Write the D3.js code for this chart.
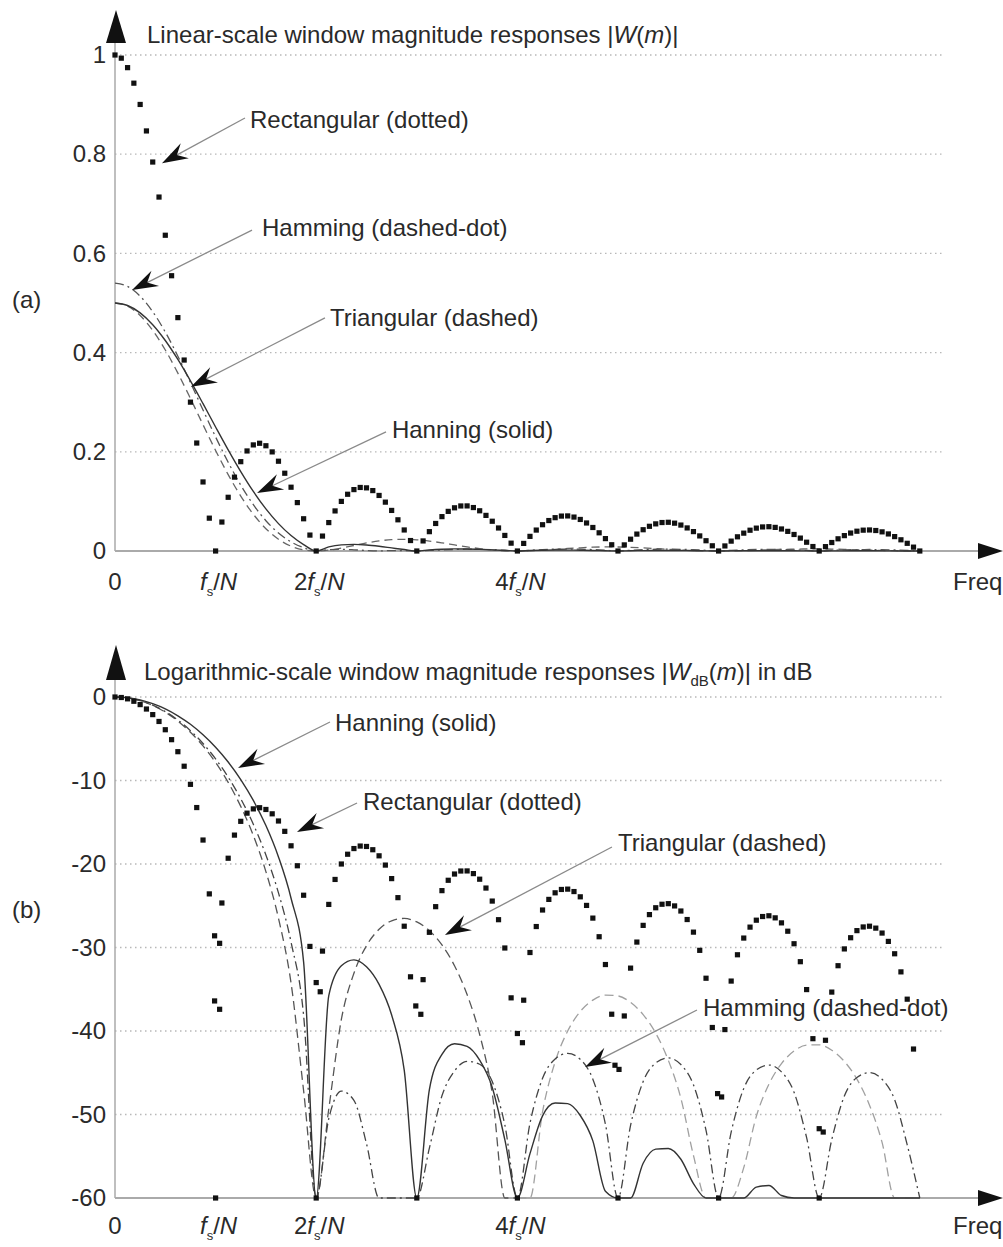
<!DOCTYPE html>
<html><head><meta charset="utf-8">
<script src="https://cdn.jsdelivr.net/npm/d3@7"></script>
<style>
body{margin:0;background:#fff;}
svg{display:block;font-family:'Liberation Sans',Arial,Helvetica,sans-serif;}
</style></head><body>
<svg id="chart" width="1003" height="1247"></svg>
<script>
// ---------------- DATA ----------------
// x positions are in units of fs/N (frequency bins)
const rectStep = 1 / 16;   // rectangular window samples: every 1/16 bin
const lineStep = 1 / 8;    // smooth window curves: every 1/8 bin

const xTickBins = [0, 1, 2, 4];
const xTickPrefix = ["0", "", "2", "4"];
const linTicks = [0, 0.2, 0.4, 0.6, 0.8, 1];
const linTickLabels = ["0", "0.2", "0.4", "0.6", "0.8", "1"];
const dbTicks = [-60, -50, -40, -30, -20, -10, 0];
const dbTickLabels = ["-60", "-50", "-40", "-30", "-20", "-10", "0"];

// Rectangular window, linear |W(m)|
const rectLin = [1, 0.9936, 0.9745, 0.9432, 0.9003, 0.8469, 0.7842, 0.7136, 0.6366, 0.5550, 0.4705, 0.3850, 0.3001, 0.2177, 0.1392, 0.0662, 0,
 0.0584, 0.1083, 0.1489, 0.1801, 0.2017, 0.2139, 0.2172, 0.2122, 0.1998, 0.1810, 0.1568, 0.1286, 0.0976, 0.0650, 0.0321, 0,
 0.0301, 0.0573, 0.0808, 0.1000, 0.1144, 0.1238, 0.1281, 0.1273, 0.1218, 0.1120, 0.0985, 0.0818, 0.0629, 0.0424, 0.0211, 0,
 0.0203, 0.0390, 0.0555, 0.0693, 0.0799, 0.0871, 0.0908, 0.0909, 0.0876, 0.0811, 0.0718, 0.0600, 0.0464, 0.0314, 0.0158, 0,
 0.0153, 0.0295, 0.0422, 0.0530, 0.0614, 0.0672, 0.0704, 0.0707, 0.0684, 0.0636, 0.0565, 0.0474, 0.0367, 0.0250, 0.0126, 0,
 0.0123, 0.0238, 0.0341, 0.0429, 0.0498, 0.0547, 0.0574, 0.0579, 0.0561, 0.0523, 0.0465, 0.0391, 0.0304, 0.0207, 0.0105, 0,
 0.0102, 0.0199, 0.0286, 0.0360, 0.0419, 0.0461, 0.0485, 0.0490, 0.0476, 0.0444, 0.0396, 0.0333, 0.0260, 0.0177, 0.0090, 0,
 0.0088, 0.0171, 0.0246, 0.0310, 0.0362, 0.0399, 0.0420, 0.0424, 0.0413, 0.0386, 0.0344, 0.0290, 0.0226, 0.0155, 0.0078, 0];

// Hanning / Hamming / Triangular, linear |W(m)|
const hanLin = [0.5, 0.4950, 0.4802, 0.4563, 0.4244, 0.3861, 0.3430, 0.2970, 0.25, 0.2039, 0.1601, 0.1201, 0.0849, 0.0552, 0.0312, 0.0129, 0,
 0.0082, 0.0123, 0.0133, 0.0121, 0.0095, 0.0062, 0.0029, 0,
 0.0022, 0.0036, 0.0042, 0.0040, 0.0033, 0.0023, 0.0011, 0,
 0.0009, 0.0016, 0.0019, 0.0018, 0.0016, 0.0011, 0.0005, 0,
 0.0005, 0.0008, 0.0010, 0.0010, 0.0009, 0.0006, 0.0003, 0,
 0.0003, 0.0005, 0.0006, 0.0006, 0.0005, 0.0004, 0.0002, 0,
 0.0002, 0.0003, 0.0004, 0.0004, 0.0003, 0.0002, 0.0001, 0];
const hamLin = [0.54, 0.5334, 0.5138, 0.4825, 0.4414, 0.3928, 0.3395, 0.2843, 0.23, 0.1789, 0.1329, 0.0934, 0.0611, 0.0363, 0.0184, 0.0067, 0,
 0.0029, 0.0033, 0.0024, 0.0010, 0.0002, 0.0008, 0.0007, 0,
 0.0011, 0.0022, 0.0031, 0.0036, 0.0034, 0.0027, 0.0015, 0,
 0.0015, 0.0028, 0.0037, 0.0040, 0.0037, 0.0028, 0.0015, 0,
 0.0015, 0.0027, 0.0035, 0.0037, 0.0034, 0.0026, 0.0014, 0,
 0.0013, 0.0024, 0.0032, 0.0034, 0.0031, 0.0023, 0.0012, 0,
 0.0012, 0.0022, 0.0028, 0.0030, 0.0028, 0.0021, 0.0011, 0];
const triLin = [0.5, 0.4936, 0.4748, 0.4448, 0.4053, 0.3586, 0.3075, 0.2546, 0.2026, 0.1540, 0.1107, 0.0741, 0.0450, 0.0237, 0.0097, 0.0022, 0,
 0.0017, 0.0059, 0.0111, 0.0162, 0.0203, 0.0229, 0.0236, 0.0225, 0.0200, 0.0164, 0.0123, 0.0083, 0.0048, 0.0021, 0.0005, 0,
 0.0005, 0.0016, 0.0033, 0.0050, 0.0065, 0.0077, 0.0082, 0.0081, 0.0074, 0.0063, 0.0049, 0.0033, 0.0020, 0.0009, 0.0002, 0,
 0.0002, 0.0008, 0.0015, 0.0024, 0.0032, 0.0038, 0.0041, 0.0041, 0.0038, 0.0033, 0.0026, 0.0018, 0.0011, 0.0005, 0.0001, 0];

// Rectangular window, dB (floor -60)
const rectDb = [0, -0.06, -0.22, -0.51, -0.91, -1.44, -2.11, -2.93, -3.92, -5.11, -6.55, -8.29, -10.46, -13.24, -17.13, -23.58, -60,
 -24.67, -19.31, -16.54, -14.89, -13.91, -13.40, -13.26, -13.47, -13.99, -14.85, -16.09, -17.82, -20.21, -23.74, -29.87, -60,
 -30.43, -24.84, -21.85, -20.00, -18.83, -18.15, -17.85, -17.90, -18.29, -19.02, -20.13, -21.75, -24.03, -27.45, -33.51, -60,
 -33.85, -28.18, -25.11, -23.19, -21.95, -21.20, -20.84, -20.83, -21.15, -21.82, -22.88, -24.44, -26.67, -30.06, -36.03, -60,
 -36.31, -30.60, -27.49, -25.51, -24.24, -23.45, -23.05, -23.01, -23.30, -23.93, -24.96, -26.48, -28.71, -32.04, -37.99, -60,
 -38.20, -32.47, -29.35, -27.35, -26.06, -25.24, -24.82, -24.75, -25.02, -25.63, -26.65, -28.16, -30.34, -33.68, -39.58, -60,
 -39.83, -34.02, -30.87, -28.87, -27.56, -26.73, -26.29, -26.20, -26.45, -27.05, -28.05, -29.55, -31.70, -35.04, -40.92, -60,
 -41.11, -35.34, -32.18, -30.17, -28.83, -27.98, -27.54, -27.45, -27.68, -28.27, -29.27, -30.75, -32.92, -36.19, -42.16];
// extra rectangular dots seen close to the nulls (bin, dB)
const rectDbExtraBins = [0.99, 1.04, 0.99, 1.04, 2.0, 2.04, 2.99, 3.04, 4.0, 4.05, 4.97, 5.01, 5.99, 6.03, 7.0, 7.04];
const rectDbExtraVals = [-28.6, -29.5, -36.4, -37.4, -34.2, -35.3, -37.0, -38.0, -40.3, -41.4, -44.1, -44.6, -47.5, -47.9, -51.7, -52.1];

// Hanning / Hamming / Triangular, dB (floor -60)
const hanDb = [0, -0.09, -0.35, -0.80, -1.42, -2.25, -3.27, -4.53, -6.02, -7.79, -9.89, -12.39, -15.40, -19.15, -24.10, -31.75, -60,
 -35.76, -32.18, -31.48, -32.31, -34.42, -38.09, -44.68, -60,
 -47.03, -42.80, -41.53, -41.85, -43.50, -46.76, -53.0, -60,
 -54.69, -50.16, -48.63, -48.70, -50.12, -53.16, -59.19, -60,
 -60, -55.84, -54.15, -54.07, -55.36, -58.27, -60, -60,
 -60, -60, -58.69, -58.50, -59.70, -60, -60, -60,
 -60, -60, -60, -60, -60, -60, -60, -60];
const hamDb = [0, -0.11, -0.43, -0.98, -1.75, -2.76, -4.03, -5.57, -7.41, -9.60, -12.18, -15.24, -18.92, -23.46, -29.36, -38.14, -60,
 -50.5, -47.2, -48.3, -53.5, -60, -60, -60, -60,
 -54.03, -47.76, -44.79, -43.63, -43.98, -46.06, -51.24, -60,
 -51.05, -45.67, -43.35, -42.68, -43.39, -45.77, -51.16, -60,
 -51.30, -46.06, -43.83, -43.23, -44.02, -46.45, -51.9, -60,
 -52.1, -46.88, -44.67, -44.08, -44.89, -47.34, -52.78, -60,
 -53.0, -47.79, -45.56, -44.99, -45.78, -48.23, -53.64, -60];
const triDb = [0, -0.11, -0.45, -1.02, -1.82, -2.89, -4.22, -5.86, -7.84, -10.23, -13.10, -16.58, -20.91, -26.49, -34.25, -47.16, -60,
 -49.34, -38.62, -33.08, -29.78, -27.82, -26.80, -26.52, -26.94, -27.98, -29.70, -32.18, -35.64, -40.42, -47.48, -60, -60,
 -60, -49.68, -43.70, -40.00, -37.66, -36.30, -35.70, -35.80, -36.58, -38.04, -40.26, -43.50, -48.06, -54.90, -60, -60,
 -60, -56.36, -50.22, -46.38, -43.90, -42.40, -41.68, -41.66, -42.30, -43.64, -45.76, -48.88, -53.34, -60, -60, -60];

// annotation anchors, in data units [bin, value]
const topNotes = [
  {label: "Rectangular (dotted)", at: [1.342, 0.853], from: [1.292, 0.873], tip: [0.467, 0.782]},
  {label: "Hamming (dashed-dot)", at: [1.461, 0.635], from: [1.362, 0.647], tip: [0.169, 0.526]},
  {label: "Triangular (dashed)", at: [2.137, 0.4536], from: [2.087, 0.470], tip: [0.755, 0.331]},
  {label: "Hanning (solid)", at: [2.753, 0.228], from: [2.694, 0.240], tip: [1.412, 0.117]}
];
const bottomNotes = [
  {label: "Hanning (solid)", at: [2.187, -4.07], from: [2.137, -2.99], tip: [1.223, -8.50]},
  {label: "Rectangular (dotted)", at: [2.465, -13.53], from: [2.406, -12.69], tip: [1.809, -16.17]},
  {label: "Triangular (dashed)", at: [5.0, -18.44], from: [4.940, -17.96], tip: [3.280, -28.50]},
  {label: "Hamming (dashed-dot)", at: [5.845, -38.2], from: [5.785, -37.49], tip: [4.672, -44.31]}
];

// ---------------- DRAWING ----------------
const FS = 24;
const TXT = "#2a2a2a";
const svg = d3.select("#chart");
const x = d3.scaleLinear().domain([0, 8]).range([115, 919.8]);
const yA = d3.scaleLinear().domain([0, 1]).range([551, 55]);
const yB = d3.scaleLinear().domain([-60, 0]).range([1198, 697]);

const pairs = (arr, step) => arr.map((v, i) => [i * step, v]);

function drawPanel(o) {
  const y = o.y;
  const g = svg.append("g");
  const base = y(o.ticks[0]);
  // grid
  g.selectAll("line.grid").data(o.ticks.slice(1)).join("line")
    .attr("class", "grid")
    .attr("x1", x(0)).attr("x2", 945)
    .attr("y1", d => y(d)).attr("y2", d => y(d))
    .attr("stroke", "#b8b8b8").attr("stroke-width", 1.3)
    .attr("stroke-dasharray", "1.5,3.5");
  // axes lines
  g.append("line").attr("x1", x(0)).attr("x2", x(0)).attr("y1", o.arrowBase).attr("y2", base)
    .attr("stroke", "#aaa").attr("stroke-width", 1.5);
  g.append("line").attr("x1", x(0)).attr("x2", 985).attr("y1", base).attr("y2", base)
    .attr("stroke", "#aaa").attr("stroke-width", 1.8);
  // arrow heads
  g.append("path").attr("d", `M116,${o.arrowTip} L126,${o.arrowBase} L106,${o.arrowBase} Z`).attr("fill", "#111");
  g.append("path").attr("d", `M1003,${base} L978,${base - 8} L978,${base + 8} Z`).attr("fill", "#111");
  // y tick labels
  const ax = d3.axisLeft(y).tickValues(o.ticks).tickFormat((d, i) => o.labels[i]).tickSize(0).tickPadding(9);
  const ag = g.append("g").attr("transform", `translate(${x(0)},0)`).call(ax);
  ag.select(".domain").remove();
  ag.attr("font-family", null).attr("font-size", FS);
  ag.selectAll("text").attr("fill", TXT);
  // x tick labels
  xTickBins.forEach((b, i) => {
    const t = g.append("text").attr("x", x(b) + (i === 0 ? 0 : 3)).attr("y", o.xLabelY)
      .attr("text-anchor", "middle").attr("font-size", FS).attr("fill", TXT);
    if (i === 0) { t.text(xTickPrefix[i]); return; }
    if (xTickPrefix[i]) t.append("tspan").text(xTickPrefix[i]);
    t.append("tspan").attr("font-style", "italic").text("f");
    t.append("tspan").attr("font-size", 13).attr("dy", 6).text("s");
    t.append("tspan").attr("dy", -6).text("/");
    t.append("tspan").attr("font-style", "italic").text("N");
  });
  g.append("text").attr("x", 953).attr("y", o.xLabelY).attr("font-size", FS).attr("fill", TXT).text("Freq");
  // panel letter
  g.append("text").attr("x", 12).attr("y", o.letterY).attr("font-size", FS).attr("fill", TXT).text(o.letter);
  // title
  const tt = g.append("text").attr("x", o.titleX).attr("y", o.titleY).attr("font-size", FS).attr("fill", TXT);
  o.title(tt);

  // curves
  const line = d3.line().x(d => x(d[0])).y(d => y(d[1])).curve(d3.curveMonotoneX);
  o.curves.forEach(c => {
    g.append("path").attr("d", line(c.data)).attr("fill", "none")
      .attr("stroke", c.color).attr("stroke-width", c.w || 1.3)
      .attr("stroke-dasharray", c.dash || null);
  });
  // dots
  g.selectAll("rect.dot").data(o.dots).join("rect").attr("class", "dot")
    .attr("x", d => x(d[0]) - 2.6).attr("y", d => y(d[1]) - 2.6)
    .attr("width", 5.2).attr("height", 5.2).attr("fill", "#111");
  // annotations
  o.notes.forEach(n => {
    const sx = x(n.from[0]), sy = y(n.from[1]);
    const tx = x(n.tip[0]), ty = y(n.tip[1]);
    const ang = Math.atan2(ty - sy, tx - sx);
    g.append("line").attr("x1", sx).attr("y1", sy)
      .attr("x2", tx - 14 * Math.cos(ang)).attr("y2", ty - 14 * Math.sin(ang))
      .attr("stroke", "#8a8a8a").attr("stroke-width", 1.3);
    g.append("path").attr("d", "M0,0 L-26,-8.5 L-17,0 L-26,8.5 Z")
      .attr("transform", `translate(${tx},${ty}) rotate(${ang * 180 / Math.PI})`)
      .attr("fill", "#111");
    g.append("text").attr("x", x(n.at[0])).attr("y", y(n.at[1]))
      .attr("font-size", FS).attr("fill", TXT).text(n.label);
  });
}

// (a) linear panel
drawPanel({
  y: yA, ticks: linTicks, labels: linTickLabels,
  arrowTip: 10, arrowBase: 43, xLabelY: 590, letter: "(a)", letterY: 308,
  titleX: 147, titleY: 43,
  title: t => {
    t.append("tspan").text("Linear-scale window magnitude responses |");
    t.append("tspan").attr("font-style", "italic").text("W");
    t.append("tspan").text("(");
    t.append("tspan").attr("font-style", "italic").text("m");
    t.append("tspan").text(")|");
  },
  curves: [
    {data: pairs(triLin, lineStep), color: "#666", dash: "8,5", w: 1.3},
    {data: pairs(hamLin, lineStep), color: "#555", dash: "9,4,2,4", w: 1.3},
    {data: pairs(hanLin, lineStep), color: "#333", w: 1.4}
  ],
  dots: pairs(rectLin, rectStep),
  notes: topNotes
});

// (b) dB panel
const triDbPairs = pairs(triDb, lineStep);
drawPanel({
  y: yB, ticks: dbTicks, labels: dbTickLabels,
  arrowTip: 645, arrowBase: 680, xLabelY: 1234, letter: "(b)", letterY: 918,
  titleX: 144, titleY: 680,
  title: t => {
    t.append("tspan").text("Logarithmic-scale window magnitude responses |");
    t.append("tspan").attr("font-style", "italic").text("W");
    t.append("tspan").attr("font-size", 15).attr("dy", 6).text("dB");
    t.append("tspan").attr("dy", -6).text("(");
    t.append("tspan").attr("font-style", "italic").text("m");
    t.append("tspan").text(")| in dB");
  },
  curves: [
    {data: triDbPairs.slice(0, 33), color: "#555", dash: "9,5", w: 1.3},
    {data: triDbPairs.slice(32), color: "#a0a0a0", dash: "9,5", w: 1.3},
    {data: pairs(hamDb, lineStep), color: "#444", dash: "9,4,2,4", w: 1.3},
    {data: pairs(hanDb, lineStep), color: "#333", w: 1.4}
  ],
  dots: pairs(rectDb, rectStep).concat(rectDbExtraBins.map((b, i) => [b, rectDbExtraVals[i]])),
  notes: bottomNotes
});
</script>
</body></html>
